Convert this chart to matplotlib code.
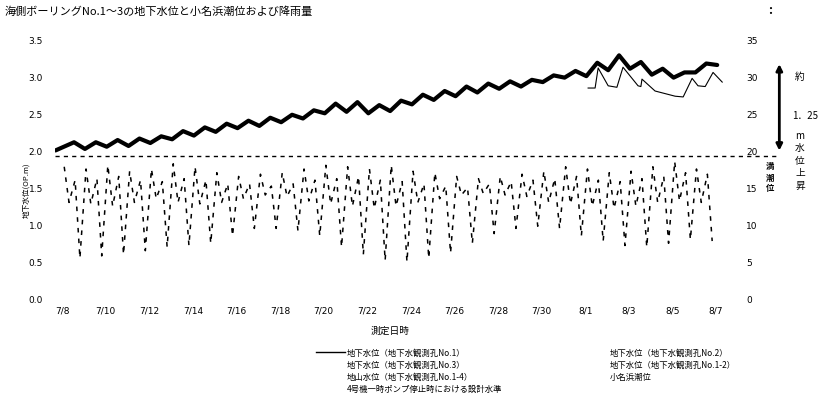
import matplotlib
matplotlib.use("Agg")
import matplotlib.pyplot as plt
import numpy as np

plt.rcParams['font.family'] = ['Noto Sans CJK JP', 'DejaVu Sans']

# ---- data ----
tick_days = list(range(0, 31, 2))
tick_labels = ["7/8", "7/10", "7/12", "7/14", "7/16", "7/18", "7/20", "7/22",
               "7/24", "7/26", "7/28", "7/30", "8/1", "8/3", "8/5", "8/7"]

# groundwater No.1 (thick), daily trough / peak (OP.m)
no1_trough = [2.00, 2.02, 2.05, 2.06, 2.10, 2.15, 2.20, 2.25, 2.30, 2.33, 2.38,
              2.43, 2.50, 2.52, 2.50, 2.53, 2.62, 2.68, 2.73, 2.78, 2.83, 2.86,
              2.92, 2.98, 3.00, 3.08, 3.10, 3.02, 2.98, 3.05, 3.15]
no1_peak = [2.11, 2.11, 2.14, 2.16, 2.19, 2.26, 2.31, 2.36, 2.40, 2.44, 2.48,
            2.54, 2.63, 2.65, 2.61, 2.67, 2.75, 2.80, 2.86, 2.90, 2.93, 2.95,
            3.01, 3.07, 3.18, 3.28, 3.19, 3.10, 3.05, 3.17, 3.26]

# groundwater No.2 (thin), from 8/1
no2_days = [24.13, 24.45, 24.59, 25.05, 25.45, 25.73, 26.42, 26.55, 26.6,
            27.2, 28.12, 28.49, 28.9, 29.17, 29.5, 29.86, 30.28]
no2_level = [2.84, 2.84, 3.11, 2.87, 2.85, 3.12, 2.87, 2.86, 2.96,
             2.80, 2.73, 2.72, 2.97, 2.87, 2.86, 3.05, 2.92]

# Onahama tide (dashed), per day: high A, shallow low, high B, deep low
tide_high_a = [1.78, 1.75, 1.80, 1.72, 1.75, 1.82, 1.78, 1.70, 1.65, 1.68,
               1.70, 1.75, 1.80, 1.78, 1.75, 1.80, 1.72, 1.70, 1.65, 1.62,
               1.65, 1.68, 1.72, 1.78, 1.75, 1.70, 1.72, 1.78, 1.85, 1.75]
tide_low_a = [1.30, 1.28, 1.25, 1.30, 1.35, 1.30, 1.28, 1.30, 1.35, 1.40,
              1.38, 1.32, 1.28, 1.25, 1.22, 1.25, 1.30, 1.35, 1.40, 1.42,
              1.40, 1.38, 1.30, 1.28, 1.25, 1.22, 1.25, 1.30, 1.32, 1.30]
tide_high_b = [1.60, 1.62, 1.65, 1.60, 1.58, 1.62, 1.60, 1.55, 1.55, 1.52,
               1.55, 1.60, 1.62, 1.65, 1.60, 1.58, 1.55, 1.52, 1.50, 1.55,
               1.58, 1.60, 1.62, 1.65, 1.60, 1.58, 1.62, 1.65, 1.70, 1.68]
tide_low_b = [0.55, 0.58, 0.60, 0.65, 0.70, 0.72, 0.75, 0.85, 0.95, 0.95,
              0.92, 0.85, 0.70, 0.60, 0.52, 0.50, 0.55, 0.62, 0.75, 0.88,
              0.95, 0.98, 0.95, 0.85, 0.78, 0.72, 0.70, 0.75, 0.80, 0.78]

design_level = 1.93

legend_left = ["地下水位（地下水観測孔No.1）", "地下水位（地下水観測孔No.3）",
               "地山水位（地下水観測孔No.1-4）", "4号機一時ポンプ停止時における設計水準"]
legend_right = ["地下水位（地下水観測孔No.2）", "地下水位（地下水観測孔No.1-2）",
                "小名浜潮位"]

# ---- figure ----
W, H = 829, 406
fig = plt.figure(figsize=(W / 100, H / 100), dpi=100)
x0_px, x1_px = 55.5, 727
ax = fig.add_axes([x0_px / W, (H - 300) / H, (x1_px - x0_px) / W, 260 / H])
ax.set_xlim(-0.3, 30.5)
ax.set_ylim(0, 3.5)
for s in ax.spines.values():
    s.set_visible(False)

# thick line
t1, v1 = [], []
for d, (lo, hi) in enumerate(zip(no1_trough, no1_peak)):
    t1 += [d + 0.05, d + 0.55]
    v1 += [lo, hi]
t1[0] = -0.3
ax.plot(t1[:-1], v1[:-1], color="black", lw=3.0, solid_joinstyle="round",
        solid_capstyle="round")

# thin line
ax.plot(no2_days, no2_level, color="black", lw=0.8)

# tide dashed
tt, tv = [], []
for d in range(len(tide_high_a)):
    tt += [d + 0.1, d + 0.32, d + 0.6, d + 0.82]
    tv += [tide_high_a[d], tide_low_a[d], tide_high_b[d], tide_low_b[d]]
ax.plot(tt, tv, color="black", lw=1.1, dashes=(3, 4))

# design level dashed line
ax.plot([-0.3, 32.9], [design_level, design_level], color="black", lw=1.0,
        dashes=(3, 3), clip_on=False)

ax.set_xticks(tick_days)
ax.set_xticklabels(tick_labels, fontsize=6.5, family="DejaVu Sans")
ax.set_yticks([0, 0.5, 1.0, 1.5, 2.0, 2.5, 3.0, 3.5])
ax.set_yticklabels(["0.0", "0.5", "1.0", "1.5", "2.0", "2.5", "3.0", "3.5"],
                   fontsize=6.5, family="DejaVu Sans")
ax.tick_params(length=0, axis="y", pad=9)
ax.tick_params(length=0, axis="x", pad=5)

ax2 = ax.twinx()
ax2.set_ylim(0, 35)
for s in ax2.spines.values():
    s.set_visible(False)
ax2.set_yticks(range(0, 36, 5))
ax2.set_yticklabels([str(v) for v in range(0, 36, 5)], fontsize=6.5,
                    family="DejaVu Sans")
ax2.tick_params(length=0, pad=14)

# arrow annotation
ax.annotate("", xy=(32.9, 3.2), xytext=(32.9, 1.96), xycoords="data",
            arrowprops=dict(arrowstyle="<|-|>", color="black", lw=2.0,
                            mutation_scale=9), annotation_clip=False)

fig.text(5 / W, 1 - 12 / H, "海側ボーリングNo.1～3の地下水位と小名浜潮位および降雨量",
         fontsize=8, va="center", ha="left")
fig.text(768 / W, 1 - 10 / H, ":", fontsize=9, weight="bold", va="center")
fig.text(26 / W, 1 - 190 / H, "地下水位(OP.m)", fontsize=5.5, rotation=90,
         va="center", ha="center")
fig.text(390 / W, 1 - 331 / H, "測定日時", fontsize=7, va="center", ha="center")

fig.text(800 / W, 1 - 77 / H, "約", fontsize=7, va="center", ha="center")
fig.text(805 / W, 1 - 116 / H, "1．25", fontsize=7, va="center", ha="center")
for i, ch in enumerate("m水位上昇"):
    fig.text(800 / W, 1 - (136 + i * 12.5) / H, ch, fontsize=7,
             va="center", ha="center")
for i, ch in enumerate("満潮位"):
    fig.text(770 / W, 1 - (167 + i * 11) / H, ch, fontsize=6, weight="bold",
             va="center", ha="center")

# legend
rows = [353, 365, 377, 389]
fig.add_artist(plt.Line2D([316 / W, 345 / W], [1 - 353 / H, 1 - 353 / H],
                          color="black", lw=1.0))
for y, s in zip(rows, legend_left):
    fig.text(347 / W, 1 - y / H, s, fontsize=6, va="center", ha="left")
for y, s in zip(rows, legend_right):
    fig.text(610 / W, 1 - y / H, s, fontsize=6, va="center", ha="left")

fig.savefig("out.png", dpi=100)
